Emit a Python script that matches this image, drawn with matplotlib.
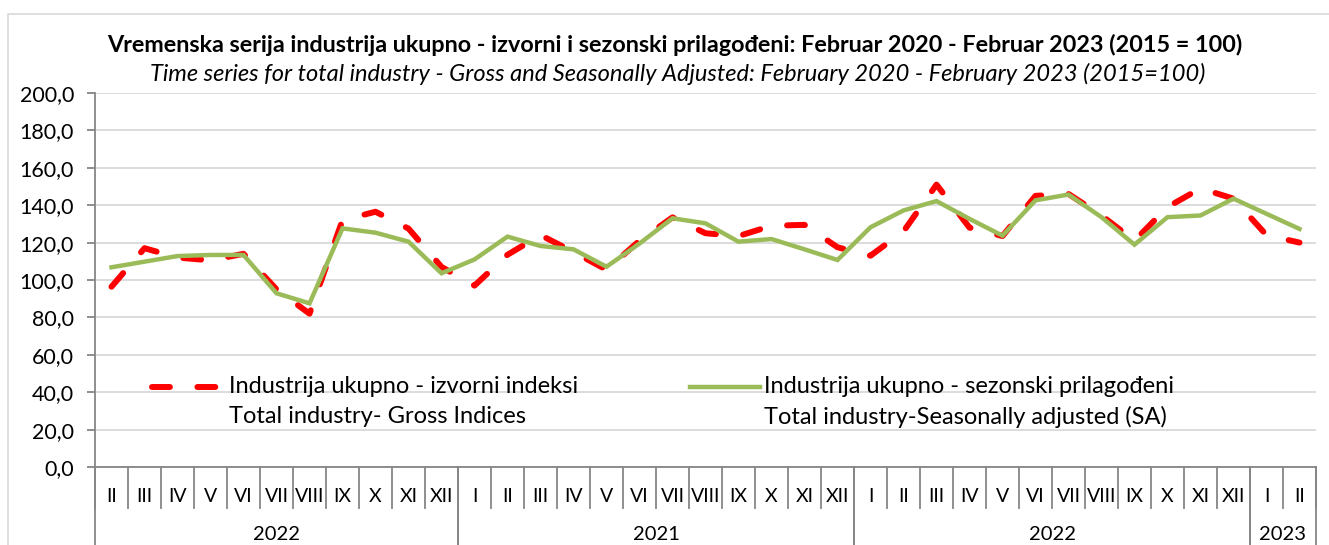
import matplotlib
matplotlib.use("Agg")
import matplotlib.pyplot as plt
from matplotlib.patches import Rectangle
from matplotlib.ticker import FuncFormatter

plt.rcParams['font.family'] = ['Lato', 'DejaVu Sans']

# months Feb 2020 - Feb 2023
months = ['II', 'III', 'IV', 'V', 'VI', 'VII', 'VIII', 'IX', 'X', 'XI', 'XII',
          'I', 'II', 'III', 'IV', 'V', 'VI', 'VII', 'VIII', 'IX', 'X', 'XI', 'XII',
          'I', 'II', 'III', 'IV', 'V', 'VI', 'VII', 'VIII', 'IX', 'X', 'XI', 'XII',
          'I', 'II']
# year labels as printed in the source (first one really is "2022" there)
years = ['2022', '2021', '2022', '2023']
year_sizes = [11, 12, 12, 2]

gross = [96.4, 117, 112, 110.5, 114, 95, 82, 132, 136.5, 127.5, 107, 97,
         113.5, 124, 115, 105.5, 121, 133.5, 125, 123.5, 129, 129.5, 117.5,
         113, 126, 151, 128, 123.5, 145, 146, 134.5, 121, 139, 149, 143.5,
         124, 120]
sa = [106.8, 109.8, 112.8, 113.4, 113.4, 92.9, 87.5, 127.6, 125.3, 120.5,
      103.6, 111, 123.2, 118.2, 116.4, 107.1, 119.5, 133, 130.3, 120.5, 121.9,
      116.4, 110.7, 128.2, 137.2, 142.2, 132.7, 123.7, 142.6, 145.7, 133.6,
      118.9, 133.6, 134.5, 143.5, 135.4, 127.3]

title = ('Vremenska serija industrija ukupno - izvorni i sezonski prilagođeni: '
         'Februar 2020 - Februar 2023 (2015 = 100)')
subtitle = ('Time series for total industry - Gross and Seasonally Adjusted: '
            'February 2020 - February 2023 (2015=100)')

W, H = 1329, 545
fig = plt.figure(figsize=(W / 100, H / 100), dpi=100)
ax = fig.add_axes([95 / W, (H - 467) / H, (1316 - 95) / W, (467 - 93) / H])

red = '#FF0000'
green = '#9BBB59'
grey = '#868686'

x = list(range(len(months)))
ax.plot(x, gross, color=red, lw=4.3, dashes=(3.0, 4.6),
        dash_capstyle='round', solid_capstyle='round', zorder=3)
ax.plot(x, sa, color=green, lw=3.2, solid_joinstyle='miter', zorder=4)

ax.set_xlim(-0.5, len(months) - 0.5)
ax.set_ylim(0, 200)
ax.set_yticks(range(0, 201, 20))
ax.yaxis.set_major_formatter(FuncFormatter(lambda v, p: f'{v:.1f}'.replace('.', ',')))
ax.grid(axis='y', color='#D9D9D9', lw=1.3)
ax.set_axisbelow(True)
for s in ['top', 'right']:
    ax.spines[s].set_visible(False)
ax.spines['left'].set_color(grey)
ax.spines['bottom'].set_color(grey)
ax.spines['left'].set_linewidth(1.3)
ax.spines['bottom'].set_linewidth(1.3)
ax.tick_params(axis='y', length=6, width=1.3, color=grey, labelsize=15.5, pad=9)
ax.set_xticks([])

# category boxes under the axis
tr = ax.get_xaxis_transform()
month_bot = -(508 - 467) / 374
for k in range(len(months) + 1):
    ax.plot([k - 0.5, k - 0.5], [0, month_bot], transform=tr, color=grey,
            lw=1.3, clip_on=False)
for i, m in enumerate(months):
    ax.text(i, -(497 - 467) / 374, m, transform=tr, ha='center', va='center',
            fontsize=14)
start = 0
for y, n in zip(years, year_sizes):
    for b in (start, start + n):
        ax.plot([b - 0.5, b - 0.5], [0, -0.3], transform=tr, color=grey,
                lw=1.3, clip_on=False)
    ax.text(start + (n - 1) / 2, -(534 - 467) / 374, y, transform=tr,
            ha='center', va='center', fontsize=14.5)
    start += n

# legend drawn by hand, two-line labels
ax.plot([0.047, 0.101], [0.214, 0.214], transform=ax.transAxes, color=red,
        lw=4.3, dashes=(3.0, 4.6), dash_capstyle='round')
ax.text(0.1097, 0.216, 'Industrija ukupno - izvorni indeksi', transform=ax.transAxes,
        va='center', fontsize=17)
ax.text(0.1097, 0.134, 'Total industry- Gross Indices', transform=ax.transAxes,
        va='center', fontsize=17)
ax.plot([0.487, 0.545], [0.214, 0.214], transform=ax.transAxes, color=green, lw=3.2)
ax.text(0.548, 0.216, 'Industrija ukupno - sezonski prilagođeni', transform=ax.transAxes,
        va='center', fontsize=17)
ax.text(0.548, 0.134, 'Total industry-Seasonally adjusted (SA)', transform=ax.transAxes,
        va='center', fontsize=17)

fig.text(675 / W, 1 - 45 / H, title, ha='center', va='center', fontsize=16.8,
         fontweight='bold')
fig.text(678 / W, 1 - 74 / H, subtitle, ha='center', va='center', fontsize=17,
         style='italic')

# chart area border
fig.patches.append(Rectangle((8 / W, -0.1), 1.2, 1 - 14 / H + 0.1,
                             transform=fig.transFigure, fill=False,
                             edgecolor='#D9D9D9', lw=1.2))

fig.savefig('out.png', dpi=100)
